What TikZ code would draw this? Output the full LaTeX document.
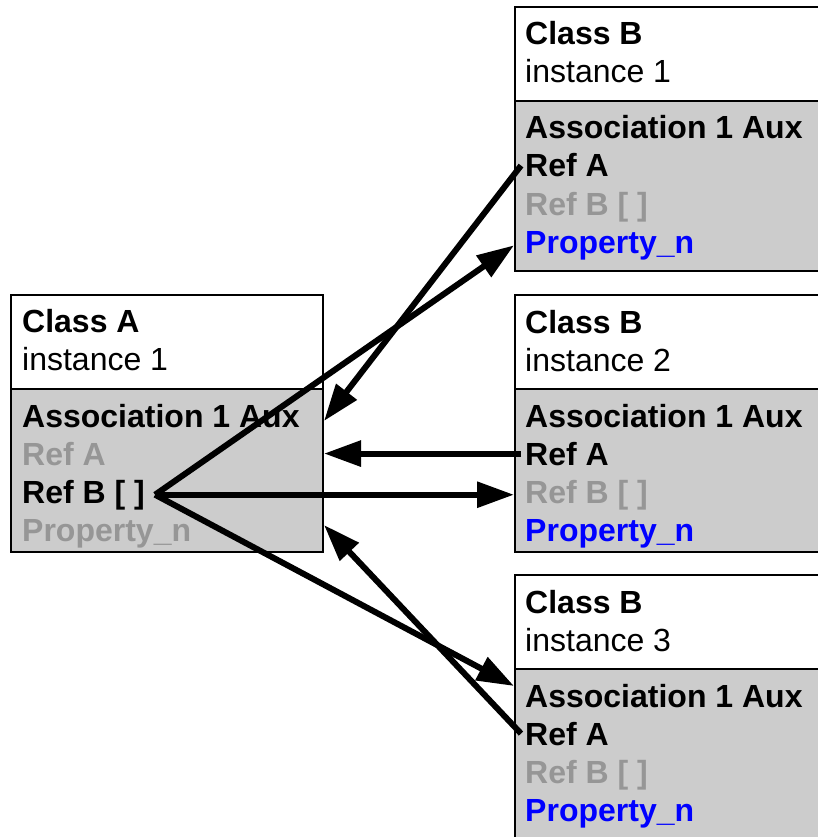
\documentclass[tikz,border=0pt]{standalone}
\usepackage{fontspec}
\setmainfont{Liberation Sans}
\usetikzlibrary{arrows.meta}
\definecolor{auxgrey}{RGB}{204,204,204}
\definecolor{offgrey}{RGB}{150,150,150}
\tikzset{
  head/.style={draw,line width=2pt,fill=white,anchor=north west,minimum width=312pt,minimum height=94pt},
  aux/.style={draw,line width=2pt,fill=auxgrey,anchor=north west,minimum width=312pt,minimum height=#1},
  row/.style={anchor=base west,inner sep=0pt,font=\fontsize{32}{38}\selectfont},
  bold/.style={row,font=\fontsize{32}{38}\selectfont\bfseries},
  off/.style={bold,text=offgrey},
  ref/.style={line width=6pt,-{Triangle[length=37pt,width=25pt]}}
}
\begin{document}
\begin{tikzpicture}[x=1pt,y=-1pt]
        \useasboundingbox(0,0)rectangle(817,837);
        \node[head](clsA)at(10,294){};
        \node[aux=163pt](auxA)at(10,388){};
        \node[bold]at(22,332){Class A};
        \node[row]at(22,370){instance 1};
        \node[bold]at(22,427){Association 1 Aux};
        \node[off]at(22,465){Ref A};
        \node[bold](refbA)at(22,503){Ref B [ ]};
        \node[off]at(22,541){Property\_n};
        \foreach \n/\y/\h in {1/6/170,2/294/163,3/574/170}{
          \node[head](clsB\n)at(514,\y){};
          \node[aux=\h pt](auxB\n)at(514,\y+94){};
          \node[bold]at(525,\y+39){Class B};
          \node[row]at(525,\y+77){instance \n};
          \node[bold]at(525,\y+133){Association 1 Aux};
          \node[bold](refaB\n)at(525,\y+171){Ref A};
          \node[off]at(525,\y+209){Ref B [ ]};
          \node[bold,text=blue](propB\n)at(525,\y+247){Property\_n};
        }
        \draw[ref]([xshift=10pt]refbA.east)--(propB1-|auxB1.west);
        \draw[ref]([xshift=10pt]refbA.east)--(refbA-|auxB2.west);
        \draw[ref]([xshift=10pt]refbA.east)--([yshift=-18pt]auxB3.north west);
        \draw[ref]([xshift=-4pt]refaB1.west)--([yshift=-33pt]auxA.north east);
        \draw[ref]([xshift=-4pt]refaB2.west)--(refaB2-|auxA.east);
        \draw[ref]([xshift=-4pt]refaB3.west)--([yshift=28pt]auxA.south east);
    \end{tikzpicture}
\end{document}
